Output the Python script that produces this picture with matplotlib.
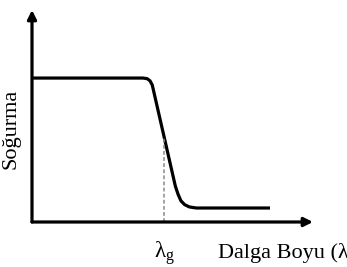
import numpy as np
import matplotlib.pyplot as plt

plt.rcParams['font.family'] = ['Liberation Serif', 'DejaVu Serif']
plt.rcParams['mathtext.fontset'] = 'custom'
plt.rcParams['mathtext.rm'] = 'Liberation Serif'
plt.rcParams['mathtext.it'] = 'Liberation Serif'

# absorption curve (arbitrary units)
wavelength = [0.4, 39.5, 41.0, 42.0, 42.8, 51.0, 52.0, 53.0, 54.3, 56.0, 58.5, 84.7]
absorbance = [67.9, 67.9, 67.6, 66.6, 64.6, 17.0, 13.0, 10.0, 8.2, 7.1, 6.6, 6.6]
lam_g = 47.0
x_label = "Dalga Boyu (λ)"
y_label = "Soğurma"
gap_label = r"$\mathrm{λ_g}$"

fig = plt.figure(figsize=(3.47, 2.67), dpi=100)
ax = fig.add_axes([32 / 347, 45 / 267, 281 / 347, 212 / 267])
ax.set_xlim(0, 100)
ax.set_ylim(0, 100)
ax.axis('off')

# axes drawn as arrows
arrow = dict(arrowstyle='-|>', lw=2.3, color='black', mutation_scale=13,
             shrinkA=0, shrinkB=0)
ax.annotate('', xy=(0, 1), xytext=(0, 0), xycoords='axes fraction', arrowprops=arrow)
ax.annotate('', xy=(1, 0), xytext=(0, 0), xycoords='axes fraction', arrowprops=arrow)

ax.plot(wavelength, absorbance, color='black', lw=2.3, solid_capstyle='butt',
        solid_joinstyle='round')

# dashed drop line at the band gap wavelength
top = np.interp(lam_g, wavelength[4:6], absorbance[4:6])
ax.plot([lam_g, lam_g], [0, top], color='#8a8a8a', lw=1.1, ls=(0, (2.5, 1.5)))

ax.text(lam_g, -0.17, gap_label, transform=ax.get_xaxis_transform(),
        ha='center', va='baseline', fontsize=16.5)
# the reference crops this label at the right edge as well
fig.text(218 / 347, 1 - 258 / 267, x_label, ha='left', va='baseline', fontsize=16)
fig.text(11 / 347, 1 - 129 / 267, y_label, rotation=90, ha='center', va='center',
         fontsize=16)

fig.savefig('out.png', dpi=100)
